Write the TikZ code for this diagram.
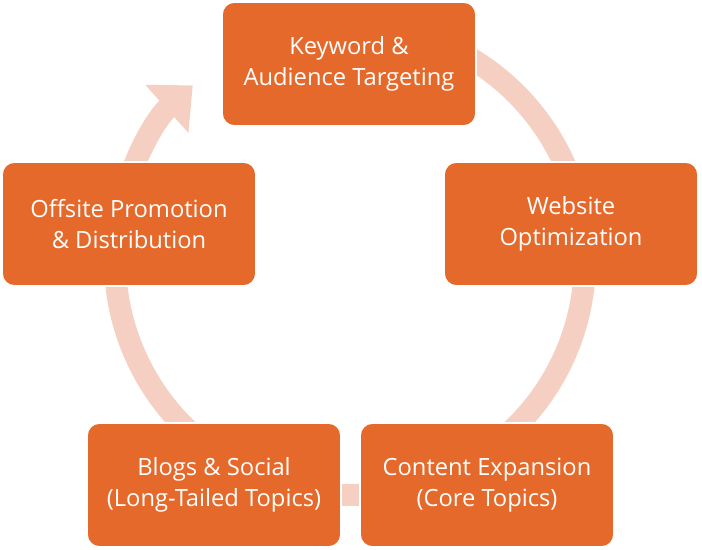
\documentclass[tikz,border=0pt]{standalone}
\usepackage{fontspec}
\setmainfont{Open Sans}
\usetikzlibrary{arrows.meta}
\definecolor{seoorange}{HTML}{E5692A}
\definecolor{ringpink}{HTML}{F6CFC3}
\tikzset{
  stagebox/.style={fill=seoorange,draw=white,line width=1pt,rounded corners=7pt,
    minimum width=5.08cm,minimum height=2.48cm,text=white,align=center,
    font=\fontsize{13.5}{18}\selectfont}
}
\begin{document}
\begin{tikzpicture}[x=0.02cm,y=0.02cm]
\useasboundingbox (0,0) rectangle (702,550);
% ring behind the boxes
\draw [ringpink,line width=0.44cm,-{Triangle[width=1.25cm,length=0.7cm]}]
  (350,290) ++(80:4.7cm) arc[start angle=80,end angle=-228,radius=4.7cm];

\node[stagebox] (keyword) at (349,486) {Keyword \&\\Audience Targeting};
\node[stagebox] (website) at (571,326) {Website\\Optimization};
\node[stagebox] (content) at (487,65) {Content Expansion\\(Core Topics)};
\node[stagebox] (blogs) at (214,65) {Blogs \& Social\\(Long-Tailed Topics)};
\node[stagebox] (offsite) at (129,326) {Offsite Promotion\\\& Distribution};
\end{tikzpicture}
\end{document}
